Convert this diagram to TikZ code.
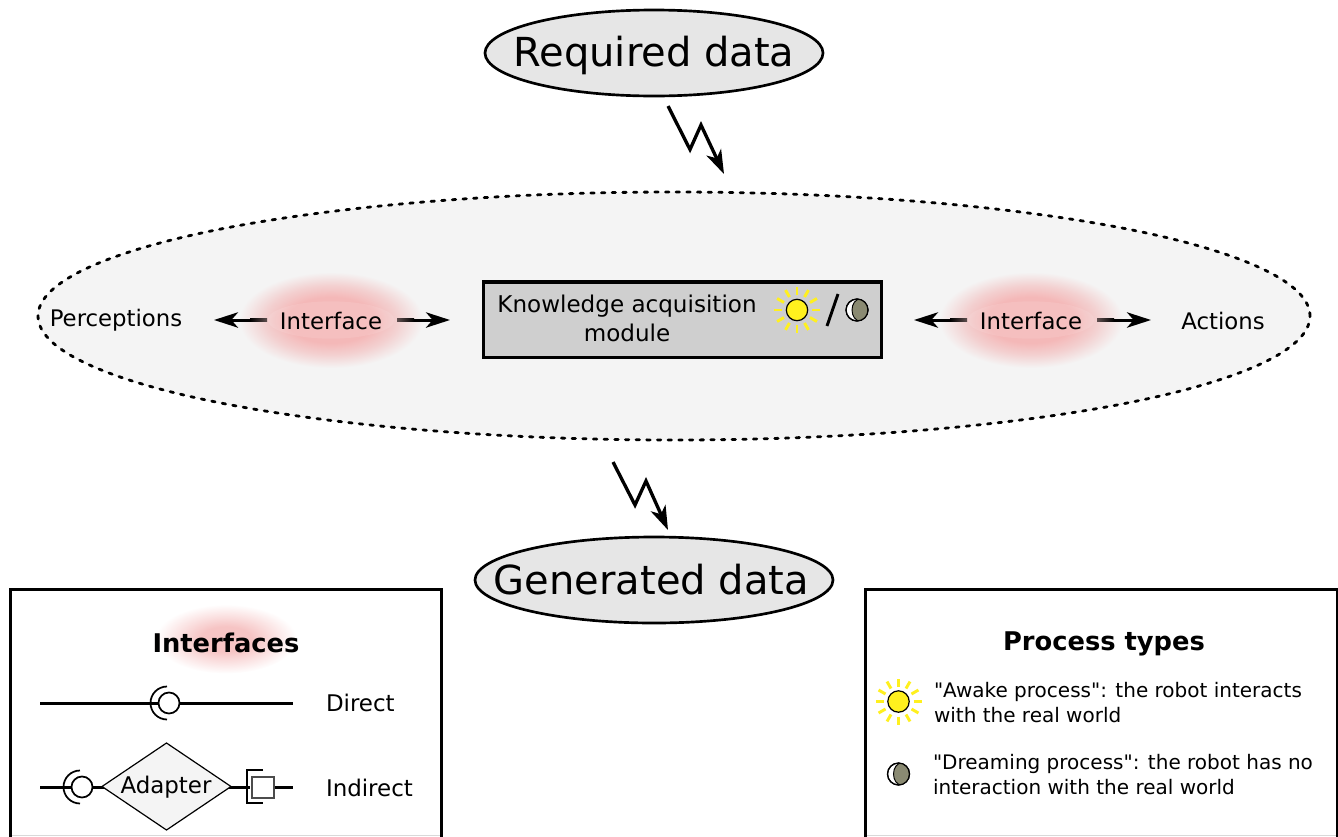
\documentclass[tikz,border=0pt]{standalone}
\usepackage{fontspec}
\setmainfont[Ligatures=TeXOff]{DejaVu Sans}
\usetikzlibrary{shapes.geometric,arrows.meta}
\definecolor{blurpink}{HTML}{F4B8B8}
\definecolor{blurpinkw}{HTML}{F6C4C4}
\definecolor{blurmid}{HTML}{F3D0D0}
\definecolor{blurmidw}{HTML}{FADEDE}
\definecolor{panel}{HTML}{F4F4F4}
\definecolor{datafill}{HTML}{E6E6E6}
\definecolor{boxfill}{HTML}{CFCFCF}
\definecolor{sunyellow}{HTML}{FFF01E}
\definecolor{moongrey}{HTML}{8A8A72}
\definecolor{fadeend}{HTML}{5E4E4E}
\pgfdeclareradialshading{blurgrey}{\pgfpoint{0bp}{0bp}}{color(0bp)=(blurpink); color(12bp)=(blurpink); color(18bp)=(blurmid); color(25bp)=(panel); color(50bp)=(panel)}
\pgfdeclareradialshading{blurwhite}{\pgfpoint{0bp}{0bp}}{color(0bp)=(blurpinkw); color(9bp)=(blurpinkw); color(16bp)=(blurmidw); color(25bp)=(white); color(50bp)=(white)}
\tikzset{
  x=0.75pt,y=-0.75pt,
  every node/.style={outer sep=0pt},
  dataell/.style={shape=ellipse,draw=black,line width=2pt,fill=datafill,inner sep=0pt,minimum width=#1*0.75pt,minimum height=64.5pt},
  datatxt/.style={font=\fontsize{30}{36}\selectfont,inner sep=0pt},
  body/.style={font=\fontsize{17.1}{22}\selectfont,inner sep=0pt},
  legendtxt/.style={font=\fontsize{17.2}{21}\selectfont,inner sep=0pt},
  legendlong/.style={font=\fontsize{15}{18.6}\selectfont,inner sep=0pt,align=left},
  legendtitle/.style={font=\fontsize{19.3}{23}\selectfont\bfseries,inner sep=0pt},
  blurblob/.style={shape=ellipse,draw=none,inner sep=0pt},
  paleglow/.style={shape=ellipse,draw=none,fill=white,opacity=0.1,inner sep=0pt,minimum width=95pt,minimum height=28pt},
  legendbox/.style={draw=black,line width=2.26pt,minimum height=200pt,inner sep=0pt,anchor=north west},
  bolt/.style={line width=2.5pt,line join=miter,-{Stealth[length=18pt,width=12pt,inset=5pt]}},
  twoway/.style={line width=2.26pt,-{Stealth[length=18pt,width=11.5pt,inset=5pt]}},
  wire/.style={line width=2.26pt},
  cup/.style={line width=1.3pt},
  ray/.style={draw=sunyellow,line width=2.2pt},
}
\newcommand{\sunicon}[2]{%
  \foreach \a in {0,30,...,330}{\draw[ray] (#1,#2) ++(\a:15) -- ++(\a:8);}
  \draw[fill=sunyellow,line width=0.9pt] (#1,#2) circle[radius=10.7];
}
\newcommand{\moonicon}[2]{%
  \draw[fill=white,line width=0.9pt] (#1,#2) circle[radius=11];
  \begin{scope}
    \clip (#1,#2) circle[radius=11];
    \fill[moongrey] (#1+3,#2) ellipse[x radius=8,y radius=11];
    \draw[line width=0.7pt] (#1+3,#2) ellipse[x radius=8,y radius=11];
  \end{scope}
  \draw[line width=0.9pt] (#1,#2) circle[radius=11];
}
\newcommand{\shaftfade}[4]{\shade[left color=#3,right color=#4] (#1,318.5) rectangle (#2,321.5);}
\begin{document}
\begin{tikzpicture}
\useasboundingbox (0,0) rectangle (1338,836);
% big ellipse
\node[shape=ellipse,draw=black,fill=panel,line width=2.1pt,line cap=round,dash pattern=on 2.6pt off 5.4pt,minimum width=954pt,minimum height=186pt,inner sep=0pt] (core) at (674,316) {};
% data ellipses
\node[dataell=338] (req) at (654,53) {};
\node[datatxt] (reqtxt) at (654,55) {Required data};
\node[dataell=358] (gen) at (654,580) {};
\node[datatxt] (gentxt) at (651.5,580) {Generated data};
% blurs
\node[blurblob,shading=blurgrey,minimum width=138pt,minimum height=72pt] (blurL) at (331,320) {};
\node[blurblob,shading=blurgrey,minimum width=138pt,minimum height=72pt] (blurR) at (1031,320) {};
\node[paleglow] (glowL) at (331,320) {};
\node[paleglow] (glowR) at (1031,320) {};
\node[blurblob,shading=blurwhite,minimum width=106pt,minimum height=52pt] (blurK) at (226,639) {};
% process box
\node[draw=black,fill=boxfill,line width=2.26pt,minimum width=298.5pt,minimum height=56.25pt,inner sep=0pt] (kam) at (682,319.5) {};
\node[body,align=center,font=\fontsize{17.3}{21.7}\selectfont] (kamtxt) at (627,318.5) {Knowledge acquisition\\module};
\sunicon{797}{310}
\draw[line width=2.2pt] (838,294) -- (827,326);
\moonicon{857}{310}
% interface row
\node[body] (perc) at (116,320) {Perceptions};
\node[body] (ifL) at (331,321) {Interface};
\node[body] (ifR) at (1031,321) {Interface};
\node[body] (act) at (1223,321) {Actions};
\coordinate (ifLl) at (267,320); \coordinate (percR) at (214,320);
\coordinate (ifLr) at (397,320); \coordinate (kamL) at (450,320);
\coordinate (ifRl) at (967,320); \coordinate (kamR) at (914,320);
\coordinate (ifRr) at (1097,320); \coordinate (actL) at (1151,320);
\draw[twoway] (ifLl) -- (percR);
\draw[twoway] (ifLr) -- (kamL);
\draw[twoway] (ifRl) -- (kamR);
\draw[twoway] (ifRr) -- (actL);
\shaftfade{250}{267}{black}{fadeend}
\shaftfade{397}{414}{fadeend}{black}
\shaftfade{950}{967}{black}{fadeend}
\shaftfade{1097}{1114}{fadeend}{black}
% bolts
\coordinate (b1s) at (668,106); \coordinate (b1e) at (724,174);
\coordinate (b2s) at (613,462); \coordinate (b2e) at (668,530);
\draw[bolt] (b1s) -- (690,149.5) -- (701,125) -- (b1e);
\draw[bolt] (b2s) -- (635,505) -- (646,481) -- (b2e);
% left legend
\draw[draw=black!15,line width=0.7pt] (10,835.3) -- (442,835.3);
\node[legendbox,minimum width=323.6pt] (leg1) at (10.5,589) {};
\node[legendtitle] (legt1) at (226,643) {Interfaces};
\coordinate (d1) at (40,703); \coordinate (d2) at (293,703);
\draw[wire] (d1) -- (d2);
\draw[cup] (167,686.5) arc[start angle=-90,end angle=-270,radius=16.5];
\draw[line width=1.3pt,fill=white] (169,703) circle[radius=10.5];
\node[legendtxt,anchor=west] (direct) at (326,703) {Direct};
\coordinate (i1) at (40,787); \coordinate (i2) at (293,787);
\draw[wire] (i1) -- (i2);
\draw[cup] (80,770.5) arc[start angle=-90,end angle=-270,radius=16.5];
\draw[line width=1.3pt,fill=white] (82,787) circle[radius=10.5];
\node[shape=diamond,draw=black,fill=panel,line width=0.9pt,minimum width=96.75pt,minimum height=65.25pt,inner sep=0pt] (adp) at (166.5,786.5) {};
\node[legendtxt] (adptxt) at (166,787) {Adapter};
\fill[white] (250,771) rectangle (263,803);
\draw[line width=1.4pt] (263,770) -- (247,770) -- (247,803) -- (263,803);
\draw[draw=black!70,line width=1.2pt,fill=white] (252,777) rectangle (274,798);
\node[legendtxt,anchor=west] (indirect) at (326,788) {Indirect};
% right legend
\draw[draw=black!15,line width=0.7pt] (865,835.3) -- (1337,835.3);
\node[legendbox,minimum width=354pt] (leg2) at (865,589) {};
\node[legendtitle] (legt2) at (1104,644) {Process types};
\sunicon{898.5}{701.5}
\moonicon{898.5}{774}
\node[legendlong,anchor=west] (awake) at (934,702.5) {"Awake process": the robot interacts\\with the real world};
\node[legendlong,anchor=west] (dream) at (933,774.5) {"Dreaming process": the robot has no\\interaction with the real world};
\end{tikzpicture}
\end{document}
